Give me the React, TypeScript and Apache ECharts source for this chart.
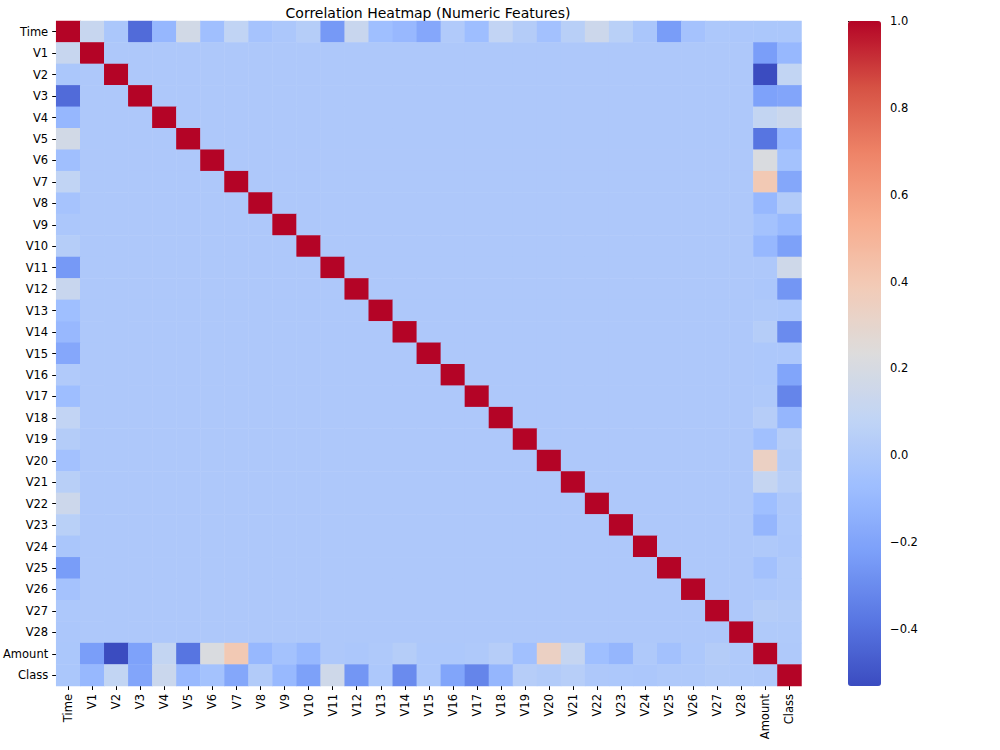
import React, { useEffect, useRef } from 'react';
import * as echarts from 'echarts';

const features = [
  'Time', 'V1', 'V2', 'V3', 'V4', 'V5', 'V6', 'V7', 'V8', 'V9', 'V10',
  'V11', 'V12', 'V13', 'V14', 'V15', 'V16', 'V17', 'V18', 'V19', 'V20',
  'V21', 'V22', 'V23', 'V24', 'V25', 'V26', 'V27', 'V28', 'Amount', 'Class',
];

const vFeatures = [
  'V1', 'V2', 'V3', 'V4', 'V5', 'V6', 'V7', 'V8', 'V9', 'V10',
  'V11', 'V12', 'V13', 'V14', 'V15', 'V16', 'V17', 'V18', 'V19', 'V20',
  'V21', 'V22', 'V23', 'V24', 'V25', 'V26', 'V27', 'V28',
];

// correlation of Time with V1..V28
const timeCorr = [
  0.117, -0.011, -0.420, -0.105, 0.173, -0.063, 0.085, -0.037, -0.009, 0.031,
  -0.248, 0.124, -0.066, -0.099, -0.183, 0.012, -0.073, 0.090, 0.029, -0.051,
  0.045, 0.144, 0.051, -0.016, -0.233, -0.041, -0.005, -0.009,
];

// correlation of Amount with V1..V28
const amountCorr = [
  -0.228, -0.531, -0.211, 0.099, -0.386, 0.216, 0.397, -0.103, -0.044, -0.102,
  0.000, -0.010, 0.005, 0.034, -0.003, -0.004, 0.007, 0.036, -0.056, 0.339,
  0.106, -0.065, -0.113, 0.005, -0.048, -0.003, 0.029, 0.010,
];

// correlation of Class with V1..V28
const classCorr = [
  -0.101, 0.091, -0.193, 0.133, -0.095, -0.044, -0.187, 0.020, -0.098, -0.217,
  0.155, -0.261, -0.005, -0.303, -0.004, -0.197, -0.326, -0.111, 0.035, 0.020,
  0.040, 0.001, -0.003, -0.007, 0.003, 0.004, 0.018, 0.010,
];

const timeAmount = -0.011;
const timeClass = -0.012;
const amountClass = 0.006;
const vvCorr = 0.0; // V-V off-diagonal (PCA components, uncorrelated)

const colorbarTicks = [-0.4, -0.2, 0.0, 0.2, 0.4, 0.6, 0.8, 1.0];

const coolwarm = [
  '#3b4cc0', '#5977e3', '#7b9ff9', '#9ebeff', '#c0d4f5', '#dddcdc',
  '#f2cbb7', '#f7ac8e', '#ee8468', '#d65244', '#b40426',
];

function corrOf(a: string, b: string): number {
  if (a === b) return 1;
  const key = [a, b].sort().join('|');
  const pairs: Record<string, number> = {};
  pairs[['Amount', 'Time'].sort().join('|')] = timeAmount;
  pairs[['Class', 'Time'].sort().join('|')] = timeClass;
  pairs[['Amount', 'Class'].sort().join('|')] = amountClass;
  if (pairs[key] !== undefined) return pairs[key];
  const other = (name: string) => (a === name ? b : b === name ? a : null);
  const t = other('Time');
  if (t) return timeCorr[vFeatures.indexOf(t)];
  const am = other('Amount');
  if (am) return amountCorr[vFeatures.indexOf(am)];
  const c = other('Class');
  if (c) return classCorr[vFeatures.indexOf(c)];
  return vvCorr;
}

const FONT = 'DejaVu Sans';

export default function App() {
  const ref = useRef<HTMLDivElement>(null);
  useEffect(() => {
    if (!ref.current) return;
    const chart = echarts.init(ref.current, undefined, { renderer: 'svg' });
    const data: [number, number, number][] = [];
    features.forEach((rowName, yi) => {
      features.forEach((colName, xi) => {
        data.push([xi, yi, corrOf(rowName, colName)]);
      });
    });
    const vmin = Math.min(...data.map((d) => d[2]));
    const vmax = Math.max(...data.map((d) => d[2]));
    const fmt = (v: number) => v.toFixed(1).replace('-', '\u2212');
    chart.setOption({
      animation: false,
      backgroundColor: '#ffffff',
      title: {
        text: 'Correlation Heatmap (Numeric Features)',
        left: 423,
        top: 1,
        textAlign: 'center',
        textStyle: { fontFamily: FONT, fontSize: 14, fontWeight: 'normal', color: '#000' },
      },
      grid: [
        { left: 52.5, top: 21, width: 749, height: 665 },
        { left: 848, top: 21, width: 33, height: 665 },
      ],
      xAxis: [
        {
          type: 'category',
          gridIndex: 0,
          data: features,
          position: 'bottom',
          axisLine: { show: false },
          axisTick: { show: true, alignWithLabel: true, interval: 0, length: 4, lineStyle: { color: '#000', width: 1 } },
          axisLabel: { interval: 0, rotate: 90, margin: 8, fontFamily: FONT, fontSize: 11.5, color: '#000' },
          splitLine: { show: false },
        },
        { type: 'value', gridIndex: 1, show: false, min: 0, max: 1 },
      ],
      yAxis: [
        {
          type: 'category',
          gridIndex: 0,
          data: features,
          inverse: true,
          axisLine: { show: false },
          axisTick: { show: true, alignWithLabel: true, interval: 0, length: 4, lineStyle: { color: '#000', width: 1 } },
          axisLabel: { interval: 0, margin: 8, fontFamily: FONT, fontSize: 11.5, color: '#000' },
          splitLine: { show: false },
        },
        {
          type: 'value',
          gridIndex: 1,
          position: 'right',
          min: vmin,
          max: vmax,
          axisLine: { show: false },
          axisTick: { show: true, length: 4, customValues: colorbarTicks, lineStyle: { color: '#000', width: 1 } },
          axisLabel: { customValues: colorbarTicks, margin: 9, formatter: fmt, fontFamily: FONT, fontSize: 11.5, color: '#000' },
          splitLine: { show: false },
        },
      ],
      visualMap: {
        type: 'continuous',
        seriesIndex: 0,
        min: vmin,
        max: vmax,
        orient: 'vertical',
        left: 848,
        top: 21,
        itemWidth: 33,
        itemHeight: 665,
        padding: 0,
        calculable: false,
        text: null,
        inRange: { color: coolwarm },
        hoverLink: false,
      },
      series: [
        {
          type: 'heatmap',
          xAxisIndex: 0,
          yAxisIndex: 0,
          data,
          itemStyle: { borderWidth: 0 },
          emphasis: { disabled: true },
        },
        {
          type: 'line',
          xAxisIndex: 1,
          yAxisIndex: 1,
          data: [],
          silent: true,
        },
      ],
    });
    return () => chart.dispose();
  }, []);
  return <div ref={ref} style={{ position: 'fixed', left: 0, top: 0, width: 1000, height: 750 }} />;
}
